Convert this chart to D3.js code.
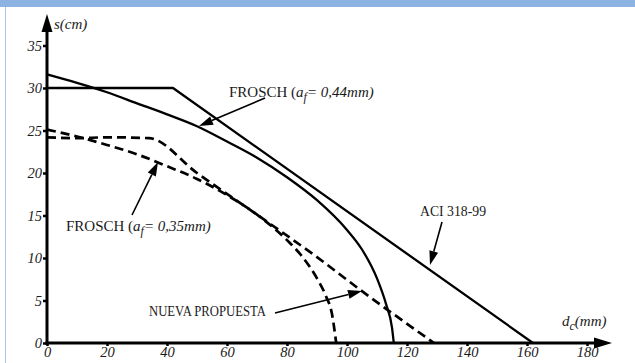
<!DOCTYPE html>
<html><head><meta charset="utf-8">
<script src="https://cdn.jsdelivr.net/npm/d3@7"></script>
<style>body{margin:0;background:#fff}svg{display:block}</style>
</head><body><svg id="c" width="635" height="363"></svg>
<script>
// data (d_c in mm, s in cm)
const xTicks = [0,20,40,60,80,100,120,140,160,180];
const yTicks = [0,5,10,15,20,25,30,35];
const aciD = [0,42,162];
const aciS = [30,30,0];
const frosch44D = [0,10,20,30,40,50,60,70,80,90,100,105,110,113,115,115.6];
const frosch44S = [31.6,30.6,29.5,28.2,26.9,25.5,23.7,21.8,19.5,16.8,13.3,11.0,7.6,4.6,1.8,0];
const frosch35D = [0,10,20,30,40,50,60,70,80,85,90,93,95,96.4];
const frosch35S = [25.1,24.3,23.3,22.2,20.8,19.3,17.4,15.1,12.1,10.2,7.6,5.5,3.4,0];
const nuevaD = [0,10,20,34,50,70,90,105,129];
const nuevaS = [24.2,24.1,24.2,24.1,20.0,15.1,10.1,6.1,0];

const svg = d3.select('#c');
const x = d3.scaleLinear().domain([0,180]).range([47,587]);
const y = d3.scaleLinear().domain([0,35]).range([343,45.5]);
const serif = "'Liberation Serif', 'DejaVu Serif', serif";
const ink = '#1a1a1a';

// frame decorations
svg.append('rect').attr('x',0).attr('y',0).attr('width',635).attr('height',7).attr('fill','#8db3e2');
svg.append('line').attr('x1',5.5).attr('x2',5.5).attr('y1',7).attr('y2',363).attr('stroke','#a9c4e8').attr('stroke-width',1);

const pts = (D,S)=>D.map((d,i)=>[d,S[i]]);
const lineGen = d3.line().x(d=>x(d[0])).y(d=>y(d[1]));
const curveGen = d3.line().x(d=>x(d[0])).y(d=>y(d[1])).curve(d3.curveMonotoneX);

svg.append('path').attr('d',lineGen(pts(aciD,aciS))).attr('fill','none').attr('stroke','#000').attr('stroke-width',2.3).attr('stroke-linejoin','round');
svg.append('path').attr('d',curveGen(pts(frosch44D,frosch44S))).attr('fill','none').attr('stroke','#000').attr('stroke-width',2.3);
svg.append('path').attr('d',curveGen(pts(frosch35D,frosch35S))).attr('fill','none').attr('stroke','#000').attr('stroke-width',2.7).attr('stroke-dasharray','9,5');
svg.append('path').attr('d',curveGen(pts(nuevaD,nuevaS))).attr('fill','none').attr('stroke','#000').attr('stroke-width',2.7).attr('stroke-dasharray','9,5');

function styleText(sel, size, italic){
  sel.style('font-family',serif).style('font-size',size+'px').style('font-style',italic?'italic':'normal').style('fill',ink);
}

// axes
const xAxis = d3.axisBottom(x).tickValues(xTicks).tickSize(3).tickPadding(1).tickFormat(d3.format('d'));
const gx = svg.append('g').attr('transform',`translate(0,${y(0)})`).call(xAxis);
gx.select('.domain').remove();
gx.selectAll('.tick line').attr('stroke','#000').attr('stroke-width',2.5);
styleText(gx.selectAll('.tick text'),14.5,true);

const yAxis = d3.axisLeft(y).tickValues(yTicks).tickSize(4).tickPadding(1).tickFormat(d3.format('d'));
const gy = svg.append('g').attr('transform',`translate(${x(0)},0)`).call(yAxis);
gy.select('.domain').remove();
gy.selectAll('.tick line').attr('stroke','#000').attr('stroke-width',2.5);
styleText(gy.selectAll('.tick text'),14.5,true);

// axis lines with arrows
svg.append('line').attr('x1',x(0)).attr('x2',x(0)).attr('y1',y(0)+1.5).attr('y2',30).attr('stroke','#000').attr('stroke-width',3);
svg.append('path').attr('d',`M${x(0)-5.5},32 L${x(0)},14 L${x(0)+5.5},32 Z`).attr('fill','#000');
svg.append('line').attr('x1',x(0)-1.5).attr('x2',596).attr('y1',y(0)).attr('y2',y(0)).attr('stroke','#000').attr('stroke-width',3);
svg.append('path').attr('d',`M594,${y(0)-5.5} L612,${y(0)} L594,${y(0)+5.5} Z`).attr('fill','#000');

// axis titles
const t1 = svg.append('text').attr('x',54).attr('y',29).text('s(cm)');
styleText(t1,15,true);
const t2 = svg.append('text').attr('x',562).attr('y',326);
styleText(t2,15,true);
t2.append('tspan').text('d');
t2.append('tspan').attr('dy',4).style('font-size','12px').text('c');
t2.append('tspan').attr('dy',-4).text('(mm)');

// annotations
function label(xp, yp, val){
  const t = svg.append('text').attr('x',xp).attr('y',yp);
  styleText(t,15,false);
  t.append('tspan').text('FROSCH (');
  t.append('tspan').style('font-style','italic').text('a');
  t.append('tspan').style('font-style','italic').style('font-size','12px').attr('dy',4).text('f');
  t.append('tspan').style('font-style','italic').attr('dy',-4).text('= '+val+'mm)');
  return t;
}
label(229,97,'0,44');
label(66,231,'0,35');
styleText(svg.append('text').attr('x',420).attr('y',216).attr('textLength',66).attr('lengthAdjust','spacingAndGlyphs').text('ACI 318-99'),15,false);
styleText(svg.append('text').attr('x',149).attr('y',316).attr('textLength',117).attr('lengthAdjust','spacingAndGlyphs').text('NUEVA PROPUESTA'),15,false);

function arrow(x1,y1,x2,y2){
  const a = Math.atan2(y2-y1,x2-x1), L=14, W=4.5;
  const bx = x2 - L*Math.cos(a), by = y2 - L*Math.sin(a);
  svg.append('line').attr('x1',x1).attr('y1',y1).attr('x2',bx).attr('y2',by).attr('stroke','#000').attr('stroke-width',1.6);
  svg.append('path').attr('d',`M${x2},${y2} L${bx - W*Math.sin(a)},${by + W*Math.cos(a)} L${bx + W*Math.sin(a)},${by - W*Math.cos(a)} Z`).attr('fill','#000');
}
arrow(265,98,199,126);
arrow(132,215,158,162);
arrow(442,222,430,265);
arrow(275,313,362,291);
</script></body></html>
